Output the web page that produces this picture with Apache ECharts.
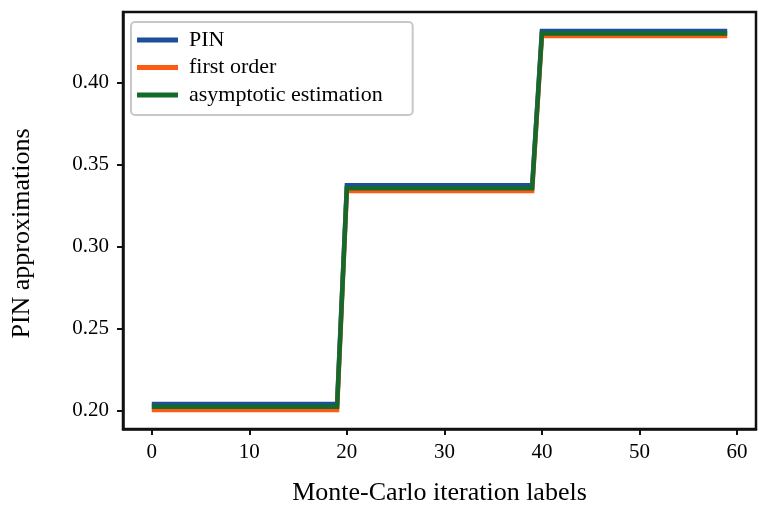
<!DOCTYPE html>
<html>
<head>
<meta charset="utf-8">
<title>PIN approximations</title>
<script src="https://cdn.jsdelivr.net/npm/echarts@6/dist/echarts.min.js"></script>
<style>
  html, body { margin: 0; padding: 0; background: #fff; }
  #chart { width: 759px; height: 521px; }
</style>
</head>
<body>
<div id="chart"></div>
<script>
// Monte-Carlo iteration labels (x values)
const iterations = [
  0, 1, 2, 3, 4, 5, 6, 7, 8, 9, 10, 11, 12, 13, 14, 15, 16, 17, 18, 19,
  20, 21, 22, 23, 24, 25, 26, 27, 28, 29, 30, 31, 32, 33, 34, 35, 36, 37, 38, 39,
  40, 41, 42, 43, 44, 45, 46, 47, 48, 49, 50, 51, 52, 53, 54, 55, 56, 57, 58, 59
];

// values
const pin = [
  0.2040, 0.2040, 0.2040, 0.2040, 0.2040, 0.2040, 0.2040, 0.2040, 0.2040, 0.2040,
  0.2040, 0.2040, 0.2040, 0.2040, 0.2040, 0.2040, 0.2040, 0.2040, 0.2040, 0.2040,
  0.3373, 0.3373, 0.3373, 0.3373, 0.3373, 0.3373, 0.3373, 0.3373, 0.3373, 0.3373,
  0.3373, 0.3373, 0.3373, 0.3373, 0.3373, 0.3373, 0.3373, 0.3373, 0.3373, 0.3373,
  0.4314, 0.4314, 0.4314, 0.4314, 0.4314, 0.4314, 0.4314, 0.4314, 0.4314, 0.4314,
  0.4314, 0.4314, 0.4314, 0.4314, 0.4314, 0.4314, 0.4314, 0.4314, 0.4314, 0.4314
];
const firstOrder = [
  0.2003, 0.2003, 0.2003, 0.2003, 0.2003, 0.2003, 0.2003, 0.2003, 0.2003, 0.2003,
  0.2003, 0.2003, 0.2003, 0.2003, 0.2003, 0.2003, 0.2003, 0.2003, 0.2003, 0.2003,
  0.3338, 0.3338, 0.3338, 0.3338, 0.3338, 0.3338, 0.3338, 0.3338, 0.3338, 0.3338,
  0.3338, 0.3338, 0.3338, 0.3338, 0.3338, 0.3338, 0.3338, 0.3338, 0.3338, 0.3338,
  0.4284, 0.4284, 0.4284, 0.4284, 0.4284, 0.4284, 0.4284, 0.4284, 0.4284, 0.4284,
  0.4284, 0.4284, 0.4284, 0.4284, 0.4284, 0.4284, 0.4284, 0.4284, 0.4284, 0.4284
];
const asymptotic = [
  0.2022, 0.2022, 0.2022, 0.2022, 0.2022, 0.2022, 0.2022, 0.2022, 0.2022, 0.2022,
  0.2022, 0.2022, 0.2022, 0.2022, 0.2022, 0.2022, 0.2022, 0.2022, 0.2022, 0.2022,
  0.3355, 0.3355, 0.3355, 0.3355, 0.3355, 0.3355, 0.3355, 0.3355, 0.3355, 0.3355,
  0.3355, 0.3355, 0.3355, 0.3355, 0.3355, 0.3355, 0.3355, 0.3355, 0.3355, 0.3355,
  0.4299, 0.4299, 0.4299, 0.4299, 0.4299, 0.4299, 0.4299, 0.4299, 0.4299, 0.4299,
  0.4299, 0.4299, 0.4299, 0.4299, 0.4299, 0.4299, 0.4299, 0.4299, 0.4299, 0.4299
];

const xTicks = [0, 10, 20, 30, 40, 50, 60];
const yTicks = [0.20, 0.25, 0.30, 0.35, 0.40];

const serif = 'Liberation Serif';

const chart = echarts.init(document.getElementById('chart'));

function pairs(values) {
  return iterations.map((x, i) => [x, values[i]]);
}

function lineSeries(name, values, color) {
  return {
    name: name,
    type: 'line',
    data: pairs(values),
    symbol: 'none',
    animation: false,
    lineStyle: { color: color, width: 4.5, cap: 'butt', join: 'miter' },
    itemStyle: { color: color }
  };
}

const option = {
  backgroundColor: '#fff',
  grid: {
    left: 123,
    right: 3,
    top: 12,
    bottom: 92,
    show: true,
    borderColor: '#111',
    borderWidth: 2.5,
    backgroundColor: '#fff'
  },
  legend: {
    orient: 'vertical',
    left: 131,
    top: 22,
    padding: [7, 30, 9, 6],
    itemGap: 5.5,
    itemWidth: 41,
    itemHeight: 5,
    icon: 'rect',
    backgroundColor: '#fff',
    borderColor: '#c8c8c8',
    borderWidth: 2,
    borderRadius: 4,
    textStyle: { fontFamily: serif, fontSize: 22, color: '#000', padding: [0, 0, 0, 6] },
    data: ['PIN', 'first order', 'asymptotic estimation']
  },
  xAxis: {
    type: 'value',
    min: -2.95,
    max: 61.95,
    name: 'Monte-Carlo iteration labels',
    nameLocation: 'middle',
    nameGap: 51,
    nameTextStyle: { fontFamily: serif, fontSize: 26, color: '#000' },
    splitLine: { show: false },
    axisLine: { onZero: false, lineStyle: { color: '#111', width: 2.5 } },
    axisTick: { show: true, length: 6, lineStyle: { color: '#111', width: 2 }, customValues: xTicks },
    axisLabel: { fontFamily: serif, fontSize: 21, color: '#000', margin: 13, customValues: xTicks }
  },
  yAxis: {
    type: 'value',
    min: 0.1887,
    max: 0.4430,
    name: 'PIN approximations',
    nameLocation: 'middle',
    nameGap: 88,
    nameTextStyle: { fontFamily: serif, fontSize: 26, color: '#000', padding: [0, 26, 0, 0] },
    splitLine: { show: false },
    axisLine: { show: true, onZero: false, lineStyle: { color: '#111', width: 2.5 } },
    axisTick: { show: true, length: 6, lineStyle: { color: '#111', width: 2 }, customValues: yTicks },
    axisLabel: {
      fontFamily: serif, fontSize: 21, color: '#000', margin: 14,
      customValues: yTicks,
      formatter: v => v.toFixed(2)
    }
  },
  series: [
    lineSeries('PIN', pin, '#1d4f9a'),
    lineSeries('first order', firstOrder, '#ff5a14'),
    lineSeries('asymptotic estimation', asymptotic, '#136a2a')
  ]
};

chart.setOption(option);
</script>
</body>
</html>
